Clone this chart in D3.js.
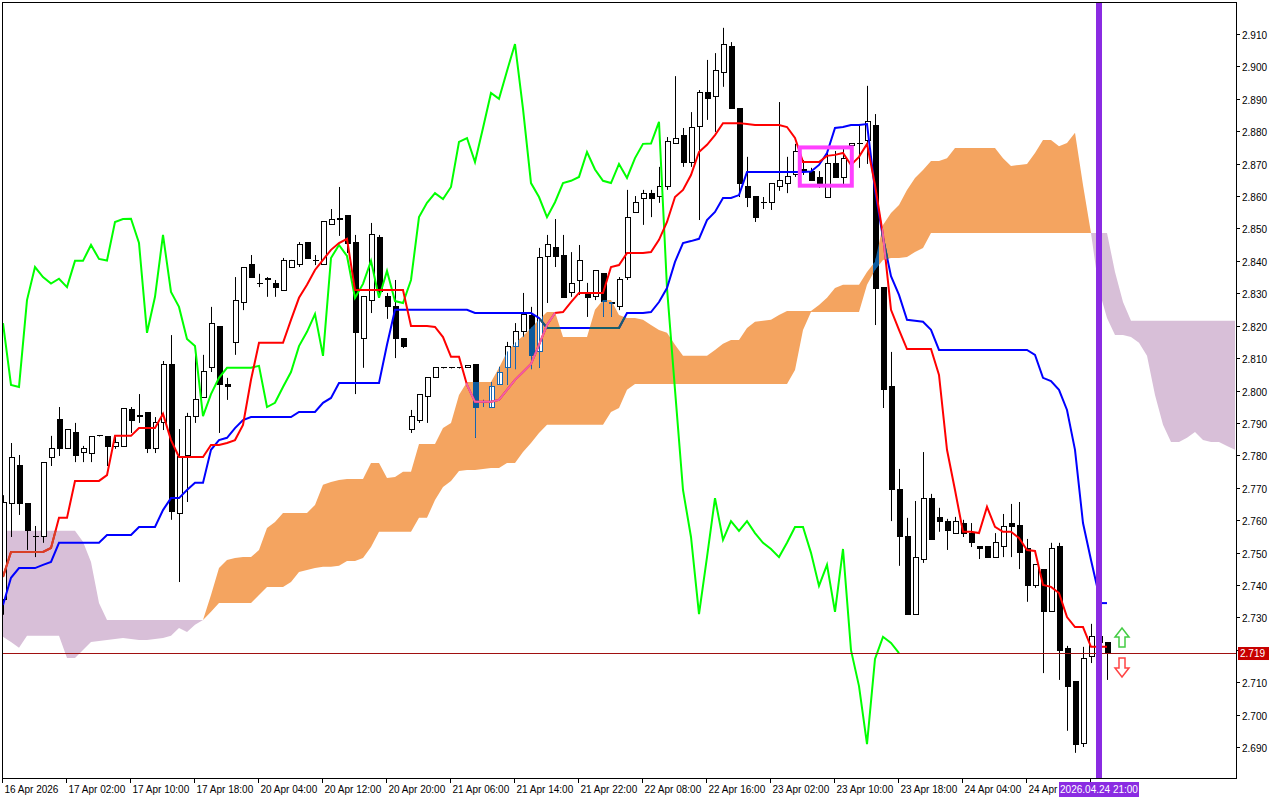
<!DOCTYPE html>
<html><head><meta charset="utf-8">
<script src="https://cdn.jsdelivr.net/npm/d3@7/dist/d3.min.js"></script>
<style>body{margin:0;background:#fff}svg{display:block}text{font-family:"Liberation Sans",Arial,sans-serif;font-size:10px}</style>
</head><body><svg id="c" width="1280" height="800"></svg>
<script>
const opens=[2.7354,2.7650,2.7770,2.7650,2.7551,2.7551,2.7792,2.7909,2.7820,2.7869,2.7810,2.7807,2.7860,2.7857,2.7826,2.7826,2.7940,2.7921,2.7931,2.7820,2.7900,2.8079,2.7619,2.7798,2.7921,2.7977,2.8070,2.8199,2.8020,2.8147,2.8270,2.8390,2.8329,2.8344,2.8329,2.8310,2.8381,2.8390,2.8458,2.8400,2.8390,2.8511,2.8529,2.8539,2.8458,2.8159,2.8279,2.8471,2.8289,2.8258,2.8159,2.7881,2.7906,2.7980,2.8039,2.8070,2.8070,2.8070,2.8070,2.8079,2.7962,2.7949,2.8020,2.8070,2.8137,2.8181,2.8230,2.8119,2.8415,2.8440,2.8418,2.8301,2.8338,2.8301,2.8289,2.8360,2.8270,2.8258,2.8350,2.8548,2.8591,2.8609,2.8600,2.8628,2.8761,2.8788,2.8705,2.8816,2.8918,2.8906,2.8980,2.9060,2.8869,2.8628,2.8600,2.8579,2.8579,2.8628,2.8640,2.8668,2.8680,2.8677,2.8656,2.8597,2.8699,2.8656,2.8755,2.8761,2.8770,2.8819,2.8319,2.8011,2.7696,2.7548,2.7310,2.7477,2.7668,2.7607,2.7597,2.7560,2.7591,2.7560,2.7520,2.7520,2.7486,2.7520,2.7591,2.7582,2.7511,2.7397,2.7449,2.7317,2.7520,2.7203,2.7101,2.6912,2.7178,2.7240,2.7221];
const highs=[2.7677,2.7838,2.7801,2.7650,2.7582,2.7779,2.7860,2.7949,2.7881,2.7900,2.7829,2.7857,2.7862,2.7857,2.7857,2.7946,2.7949,2.7989,2.7931,2.7918,2.8091,2.8171,2.7881,2.7931,2.8110,2.8110,2.8258,2.8199,2.8039,2.8350,2.8381,2.8418,2.8360,2.8350,2.8341,2.8409,2.8403,2.8458,2.8458,2.8418,2.8520,2.8560,2.8628,2.8539,2.8480,2.8289,2.8517,2.8480,2.8301,2.8341,2.8159,2.7940,2.7989,2.8039,2.8070,2.8072,2.8072,2.8072,2.8076,2.8079,2.7971,2.8026,2.8073,2.8150,2.8208,2.8301,2.8258,2.8440,2.8480,2.8529,2.8480,2.8427,2.8449,2.8332,2.8369,2.8360,2.8272,2.8350,2.8619,2.8600,2.8619,2.8619,2.8690,2.8782,2.8970,2.8810,2.8859,2.8927,2.9020,2.9041,2.9119,2.9075,2.8869,2.8721,2.8600,2.8597,2.8640,2.8890,2.8721,2.8761,2.8711,2.8687,2.8677,2.8739,2.8739,2.8745,2.8761,2.8819,2.8940,2.8853,2.8319,2.8119,2.7758,2.7607,2.7659,2.7810,2.7681,2.7638,2.7604,2.7610,2.7601,2.7591,2.7520,2.7520,2.7560,2.7619,2.7650,2.7656,2.7542,2.7462,2.7449,2.7530,2.7530,2.7212,2.7101,2.7209,2.7280,2.7261,2.7221];
const lows=[2.7308,2.7548,2.7616,2.7508,2.7486,2.7530,2.7767,2.7798,2.7820,2.7779,2.7779,2.7779,2.7858,2.7767,2.7820,2.7826,2.7869,2.7900,2.7807,2.7807,2.7878,2.7601,2.7409,2.7656,2.7900,2.7977,2.8057,2.7869,2.7971,2.8110,2.8248,2.8350,2.8319,2.8289,2.8289,2.8310,2.8381,2.8381,2.8406,2.8387,2.8390,2.8511,2.8477,2.8424,2.7989,2.8070,2.8239,2.8295,2.8221,2.8100,2.8131,2.7869,2.7900,2.7900,2.8039,2.8068,2.8068,2.8068,2.8070,2.7854,2.7949,2.7949,2.8017,2.8017,2.8066,2.8165,2.8066,2.8070,2.8270,2.8381,2.8286,2.8289,2.8295,2.8227,2.8279,2.8227,2.8227,2.8248,2.8341,2.8548,2.8511,2.8535,2.8579,2.8619,2.8761,2.8690,2.8690,2.8526,2.8835,2.8798,2.8937,2.8869,2.8597,2.8566,2.8520,2.8560,2.8557,2.8616,2.8609,2.8659,2.8665,2.8647,2.8625,2.8597,2.8656,2.8628,2.8742,2.8687,2.8699,2.8202,2.7946,2.7597,2.7459,2.7310,2.7310,2.7468,2.7539,2.7564,2.7508,2.7560,2.7548,2.7517,2.7480,2.7486,2.7486,2.7486,2.7486,2.7449,2.7348,2.7391,2.7128,2.7317,2.7107,2.6950,2.6882,2.6900,2.7159,2.7169,2.7107];
const closes=[2.7653,2.7792,2.7650,2.7567,2.7548,2.7779,2.7820,2.7820,2.7881,2.7798,2.7820,2.7857,2.7860,2.7826,2.7841,2.7946,2.7906,2.7922,2.7820,2.7900,2.8079,2.7628,2.7795,2.7921,2.7971,2.8060,2.8208,2.8017,2.8011,2.8279,2.8381,2.8350,2.8330,2.8345,2.8319,2.8400,2.8400,2.8449,2.8406,2.8401,2.8520,2.8529,2.8530,2.8455,2.8178,2.8289,2.8480,2.8304,2.8258,2.8159,2.8137,2.7921,2.7989,2.8039,2.8070,2.8070,2.8070,2.8070,2.8076,2.7949,2.7962,2.8011,2.8057,2.8137,2.8181,2.8236,2.8107,2.8409,2.8449,2.8415,2.8286,2.8329,2.8400,2.8286,2.8369,2.8276,2.8270,2.8341,2.8535,2.8579,2.8609,2.8591,2.8628,2.8767,2.8779,2.8705,2.8810,2.8918,2.8900,2.8986,2.9069,2.8869,2.8640,2.8597,2.8535,2.8581,2.8640,2.8647,2.8659,2.8736,2.8682,2.8647,2.8640,2.8699,2.8656,2.8717,2.8761,2.8762,2.8829,2.8316,2.8002,2.7693,2.7548,2.7310,2.7486,2.7668,2.7539,2.7597,2.7567,2.7597,2.7560,2.7530,2.7511,2.7486,2.7530,2.7579,2.7579,2.7499,2.7397,2.7462,2.7317,2.7511,2.7199,2.7088,2.6909,2.7172,2.7240,2.7221,2.7190];
const tenkan=[2.7425,2.7502,2.7502,2.7502,2.7502,2.7502,2.7514,2.7607,2.7607,2.7721,2.7721,2.7721,2.7721,2.7739,2.7860,2.7860,2.7860,2.7884,2.7884,2.7884,2.7928,2.7847,2.7795,2.7795,2.7795,2.7795,2.7832,2.7832,2.7838,2.7847,2.7894,2.8033,2.8147,2.8147,2.8147,2.8147,2.8218,2.8286,2.8326,2.8372,2.8403,2.8434,2.8455,2.8468,2.8310,2.8310,2.8310,2.8310,2.8310,2.8310,2.8310,2.8199,2.8199,2.8199,2.8196,2.8165,2.8104,2.8104,2.8017,2.7965,2.7965,2.7965,2.7971,2.8002,2.8033,2.8057,2.8082,2.8141,2.8202,2.8239,2.8242,2.8273,2.8301,2.8301,2.8301,2.8301,2.8381,2.8387,2.8424,2.8424,2.8424,2.8427,2.8465,2.8520,2.8597,2.8619,2.8665,2.8736,2.8758,2.8788,2.8825,2.8825,2.8825,2.8822,2.8819,2.8819,2.8819,2.8819,2.8813,2.8779,2.8705,2.8705,2.8705,2.8724,2.8727,2.8733,2.8696,2.8721,2.8761,2.8634,2.8480,2.8249,2.8187,2.8128,2.8128,2.8128,2.8128,2.8048,2.7817,2.7693,2.7564,2.7564,2.7560,2.7641,2.7579,2.7564,2.7564,2.7545,2.7508,2.7505,2.7400,2.7394,2.7375,2.7301,2.7270,2.7270,2.7209,2.7209,2.7209];
const kijun=[2.7338,2.7422,2.7452,2.7452,2.7452,2.7462,2.7471,2.7530,2.7530,2.7530,2.7530,2.7530,2.7530,2.7554,2.7554,2.7554,2.7554,2.7579,2.7579,2.7579,2.7631,2.7668,2.7668,2.7693,2.7715,2.7715,2.7817,2.7847,2.7854,2.7884,2.7909,2.7918,2.7918,2.7918,2.7918,2.7918,2.7918,2.7934,2.7934,2.7934,2.7962,2.7977,2.8023,2.8023,2.8023,2.8023,2.8023,2.8023,2.8141,2.8249,2.8249,2.8249,2.8249,2.8249,2.8249,2.8249,2.8249,2.8249,2.8249,2.8239,2.8239,2.8239,2.8239,2.8239,2.8239,2.8239,2.8239,2.8224,2.8193,2.8193,2.8193,2.8193,2.8193,2.8193,2.8193,2.8193,2.8193,2.8193,2.8239,2.8239,2.8239,2.8242,2.8273,2.8316,2.8397,2.8455,2.8461,2.8468,2.8526,2.8551,2.8594,2.8594,2.8603,2.8674,2.8674,2.8674,2.8674,2.8674,2.8674,2.8674,2.8674,2.8676,2.8696,2.8733,2.8810,2.8813,2.8819,2.8819,2.8822,2.8619,2.8471,2.8353,2.8295,2.8218,2.8215,2.8212,2.8187,2.8125,2.8125,2.8125,2.8125,2.8125,2.8125,2.8125,2.8125,2.8125,2.8125,2.8125,2.8125,2.8110,2.8039,2.8029,2.8002,2.7940,2.7817,2.7591,2.7477,2.7369,2.7344];
const spanA=[2.7240,2.7224,2.7206,2.7243,2.7243,2.7243,2.7243,2.7243,2.7175,2.7175,2.7199,2.7224,2.7227,2.7230,2.7233,2.7236,2.7233,2.7230,2.7230,2.7233,2.7236,2.7243,2.7267,2.7255,2.7277,2.7292,2.7369,2.7452,2.7477,2.7483,2.7486,2.7486,2.7508,2.7576,2.7594,2.7622,2.7622,2.7622,2.7622,2.7647,2.7709,2.7718,2.7724,2.7727,2.7727,2.7727,2.7776,2.7776,2.7730,2.7733,2.7749,2.7749,2.7835,2.7835,2.7835,2.7884,2.7900,2.7986,2.8026,2.8026,2.8026,2.8026,2.8070,2.8119,2.8147,2.8168,2.8193,2.8218,2.8242,2.8242,2.8165,2.8165,2.8165,2.8165,2.8249,2.8279,2.8279,2.8233,2.8224,2.8224,2.8218,2.8202,2.8187,2.8178,2.8141,2.8107,2.8107,2.8107,2.8107,2.8125,2.8144,2.8156,2.8156,2.8193,2.8212,2.8215,2.8218,2.8233,2.8245,2.8245,2.8245,2.8245,2.8264,2.8286,2.8316,2.8326,2.8326,2.8326,2.8366,2.8397,2.8511,2.8548,2.8572,2.8619,2.8656,2.8680,2.8708,2.8708,2.8717,2.8748,2.8748,2.8748,2.8748,2.8748,2.8748,2.8717,2.8693,2.8696,2.8699,2.8733,2.8773,2.8773,2.8754,2.8764,2.8795,2.8634,2.8486,2.8310,2.8224,2.8171,2.8171,2.8165,2.8147,2.8107,2.7986,2.7894,2.7841,2.7841,2.7854,2.7872,2.7847,2.7841,2.7841,2.7829,2.7817];
const spanB=[2.7567,2.7567,2.7567,2.7567,2.7567,2.7567,2.7567,2.7567,2.7567,2.7567,2.7533,2.7471,2.7344,2.7292,2.7292,2.7292,2.7292,2.7292,2.7292,2.7292,2.7292,2.7292,2.7292,2.7292,2.7292,2.7292,2.7317,2.7344,2.7344,2.7344,2.7344,2.7344,2.7369,2.7394,2.7394,2.7394,2.7409,2.7440,2.7446,2.7452,2.7456,2.7456,2.7459,2.7474,2.7474,2.7483,2.7517,2.7564,2.7564,2.7564,2.7564,2.7564,2.7607,2.7607,2.7662,2.7702,2.7721,2.7752,2.7755,2.7755,2.7758,2.7761,2.7761,2.7776,2.7776,2.7810,2.7838,2.7869,2.7894,2.7894,2.7894,2.7894,2.7894,2.7894,2.7894,2.7894,2.7934,2.7946,2.8002,2.8020,2.8020,2.8020,2.8020,2.8020,2.8020,2.8020,2.8020,2.8020,2.8020,2.8020,2.8020,2.8020,2.8020,2.8020,2.8020,2.8020,2.8020,2.8020,2.8020,2.8063,2.8187,2.8242,2.8242,2.8242,2.8242,2.8242,2.8242,2.8242,2.8326,2.8372,2.8403,2.8409,2.8409,2.8412,2.8427,2.8440,2.8486,2.8486,2.8486,2.8486,2.8486,2.8486,2.8486,2.8486,2.8486,2.8486,2.8486,2.8486,2.8486,2.8486,2.8486,2.8486,2.8486,2.8486,2.8486,2.8486,2.8486,2.8486,2.8486,2.8366,2.8273,2.8215,2.8215,2.8215,2.8215,2.8215,2.8215,2.8215,2.8215,2.8215,2.8215,2.8215,2.8215,2.8215,2.8215,2.8215,2.8215];
const timeLabels=["16 Apr 2026","17 Apr 02:00","17 Apr 10:00","17 Apr 18:00","20 Apr 04:00","20 Apr 12:00","20 Apr 20:00","21 Apr 06:00","21 Apr 14:00","21 Apr 22:00","22 Apr 08:00","22 Apr 16:00","23 Apr 02:00","23 Apr 10:00","23 Apr 18:00","24 Apr 04:00","24 Apr 12:00","24 Apr 20:00"];
const labelEvery=8;
const priceTicks=d3.range(2.690,2.9101,0.010);
const lastPrice=2.719;
const currentBar=137;
const currentLabel="2026.04.24 21:00";
const boxBars=[99.6,106.1], boxPrices=[2.8632,2.8750];
const chikouShift=26;

const svg=d3.select("#c");
const W=1236,H=778;
const x=d3.scaleLinear().domain([0,154]).range([3,3+8*154]);
const y=d3.scaleLinear().domain([2.690,2.910]).range([747,34]);
svg.append("rect").attr("width",1280).attr("height",800).attr("fill","#fff");
svg.append("clipPath").attr("id","plot").append("rect").attr("x",2).attr("y",2).attr("width",W-2).attr("height",H-2);
const g=svg.append("g").attr("clip-path","url(#plot)");
const idx=d3.range(spanA.length);
const orangeArea=d3.area().x(i=>x(i)).y0(i=>y(spanB[i])).y1(i=>y(Math.max(spanA[i],spanB[i])));
const lavArea=d3.area().x(i=>x(i)).y0(i=>y(spanA[i])).y1(i=>y(Math.max(spanA[i],spanB[i])));
g.append("path").attr("d",lavArea(idx)).attr("fill","#d8bfd8");
g.append("path").attr("d",orangeArea(idx)).attr("fill","#f4a460");
svg.append("clipPath").attr("id","orng").append("path").attr("d",orangeArea(idx));
svg.append("clipPath").attr("id","lav").append("path").attr("d",lavArea(idx));
function drawCandles(sel,wick,blackFill,whiteStroke,whiteFill){
  const n=closes.length;
  const c=sel.selectAll(null).data(d3.range(n)).enter().append("g");
  c.append("line").attr("x1",i=>x(i)+0.5).attr("x2",i=>x(i)+0.5).attr("y1",i=>y(highs[i])).attr("y2",i=>y(lows[i])).attr("stroke",wick).attr("stroke-width",1);
  c.append("rect").attr("x",i=>x(i)-2).attr("width",5)
   .attr("y",i=>y(Math.max(opens[i],closes[i]))).attr("height",i=>Math.max(0.01,Math.abs(y(opens[i])-y(closes[i]))))
   .attr("fill",i=>closes[i]<opens[i]?blackFill:whiteFill).attr("stroke",i=>closes[i]<opens[i]?blackFill:whiteStroke).attr("stroke-width",1).attr("shape-rendering","crispEdges");
}
drawCandles(g.append("g"),"#000","#000","#000","#fff");
drawCandles(g.append("g").attr("clip-path","url(#orng)"),"#1565b0","#0d5a9c","#1565b0","none");
const line=arr=>d3.line().x((d,i)=>x(i)).y(d=>y(d))(arr);
const chikou=closes.slice(chikouShift);
g.append("path").attr("d",line(chikou)).attr("fill","none").attr("stroke","#00ff00").attr("stroke-width",2);
g.append("path").attr("d",line(kijun.slice(0,currentBar+1))).attr("fill","none").attr("stroke","#0000ff").attr("stroke-width",2);
g.append("line").attr("x1",x(currentBar)).attr("x2",x(currentBar+1)).attr("y1",y(kijun[currentBar+1])).attr("y2",y(kijun[currentBar+1])).attr("stroke","#0000ff").attr("stroke-width",2);
g.append("path").attr("d",line(tenkan)).attr("fill","none").attr("stroke","#ff0000").attr("stroke-width",2);
g.append("g").attr("clip-path","url(#orng)").append("path").attr("d",line(kijun)).attr("fill","none").attr("stroke","#1b5e6a").attr("stroke-width",2);
g.append("g").attr("clip-path","url(#orng)").append("path").attr("d",line(tenkan)).attr("fill","none").attr("stroke","#f060a8").attr("stroke-width",2);
g.append("g").attr("clip-path","url(#lav)").append("path").attr("d",line(tenkan)).attr("fill","none").attr("stroke","#d84028").attr("stroke-width",2);
g.append("rect").attr("x",x(boxBars[0])).attr("y",y(boxPrices[1])).attr("width",x(boxBars[1])-x(boxBars[0])).attr("height",y(boxPrices[0])-y(boxPrices[1]))
 .attr("fill","none").attr("stroke","#ff40ff").attr("stroke-width",4);
g.append("line").attr("x1",0).attr("x2",W).attr("y1",y(lastPrice)+0.5).attr("y2",y(lastPrice)+0.5).attr("stroke","#a01010").attr("stroke-width",1);
g.append("line").attr("x1",x(currentBar)).attr("x2",x(currentBar)).attr("y1",0).attr("y2",H).attr("stroke","#8a2be2").attr("stroke-width",6);
const ax=1122;
svg.append("path").attr("d",`M${ax},628 L${ax+7},637 L${ax+3},637 L${ax+3},647 L${ax-3},647 L${ax-3},637 L${ax-7},637 Z`).attr("fill","#fff").attr("stroke","#44cc44").attr("stroke-width",1.5);
svg.append("path").attr("d",`M${ax},677 L${ax+7},668 L${ax+3},668 L${ax+3},658 L${ax-3},658 L${ax-3},668 L${ax-7},668 Z`).attr("fill","#fff").attr("stroke","#ff4444").attr("stroke-width",1.5);
svg.append("rect").attr("x",2.5).attr("y",2.5).attr("width",W-2).attr("height",H-2).attr("fill","none").attr("stroke","#000").attr("stroke-width",1);
const pa=svg.append("g");
priceTicks.forEach(p=>{
  const yy=Math.round(y(p))+0.5;
  pa.append("line").attr("x1",W).attr("x2",W+4).attr("y1",yy).attr("y2",yy).attr("stroke","#000");
  pa.append("text").attr("x",W+6).attr("y",yy+4).text(p.toFixed(3));
});
svg.append("rect").attr("x",W+2).attr("y",y(lastPrice)-6).attr("width",31).attr("height",13).attr("fill","#c80000");
svg.append("text").attr("x",W+4).attr("y",y(lastPrice)+4).attr("fill","#fff").text(lastPrice.toFixed(3));
const ta=svg.append("g");
timeLabels.forEach((t,k)=>{
  const xx=Math.round(x(k*labelEvery))-0.5;
  ta.append("line").attr("x1",xx).attr("x2",xx).attr("y1",H).attr("y2",H+5).attr("stroke","#000");
  if(Math.abs(x(k*labelEvery)-x(currentBar))>70) ta.append("text").attr("x",xx+2).attr("y",H+15).text(t);
});
const cx=x(currentBar);
svg.append("rect").attr("x",cx-40).attr("y",H+4).attr("width",80).attr("height",15).attr("fill","#8a2be2");
svg.append("text").attr("x",cx).attr("y",H+15).attr("text-anchor","middle").attr("fill","#fff").text(currentLabel);
</script></body></html>
